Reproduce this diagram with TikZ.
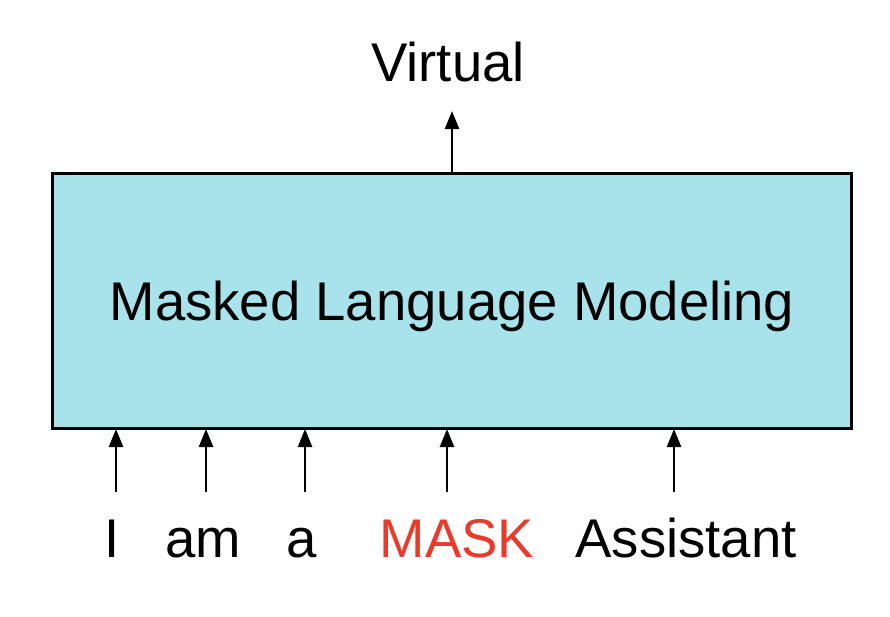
\documentclass[tikz,border=0pt]{standalone}
\usepackage{fontspec}
\setmainfont{Liberation Sans}
\usetikzlibrary{arrows.meta}
\definecolor{boxfill}{HTML}{A8E3EB}
\definecolor{maskred}{HTML}{EA3B2A}
\tikzset{
  word/.style={anchor=base, inner sep=0pt, font=\fontsize{54.5}{62}\selectfont},
  arr/.style={line width=2.6pt, -{Triangle[length=18pt,width=14pt]}},
  mainbox/.style={draw=black, line width=3pt, fill=boxfill}
}
\begin{document}
\begin{tikzpicture}[x=1pt,y=-1pt]
\useasboundingbox (0,0) rectangle (890,616);
\draw[mainbox] (52,173) rectangle (851,428);
\coordinate (boxtop) at (452,173);
\node[word] (title) at (452,320) {Masked Language Modeling};
\node[word] (virtual) at (448,81) {Virtual};
\coordinate (vt) at (452,111);
\draw[arr] (boxtop) -- (vt);
\node[word] (w1) at (112,557) {I};
\node[word] (w2) at (203,557) {am};
\node[word] (w3) at (302,557) {a};
\node[word, text=maskred] (w4) at (457,557) {MASK};
\node[word] (w5) at (686,557) {Assistant};
\foreach \i/\x in {1/116,2/206,3/305,4/447,5/674}{
  \coordinate (s\i) at (\x,492);
  \coordinate (e\i) at (\x,429);
  \draw[arr] (s\i) -- (e\i);
}
\end{tikzpicture}
\end{document}
